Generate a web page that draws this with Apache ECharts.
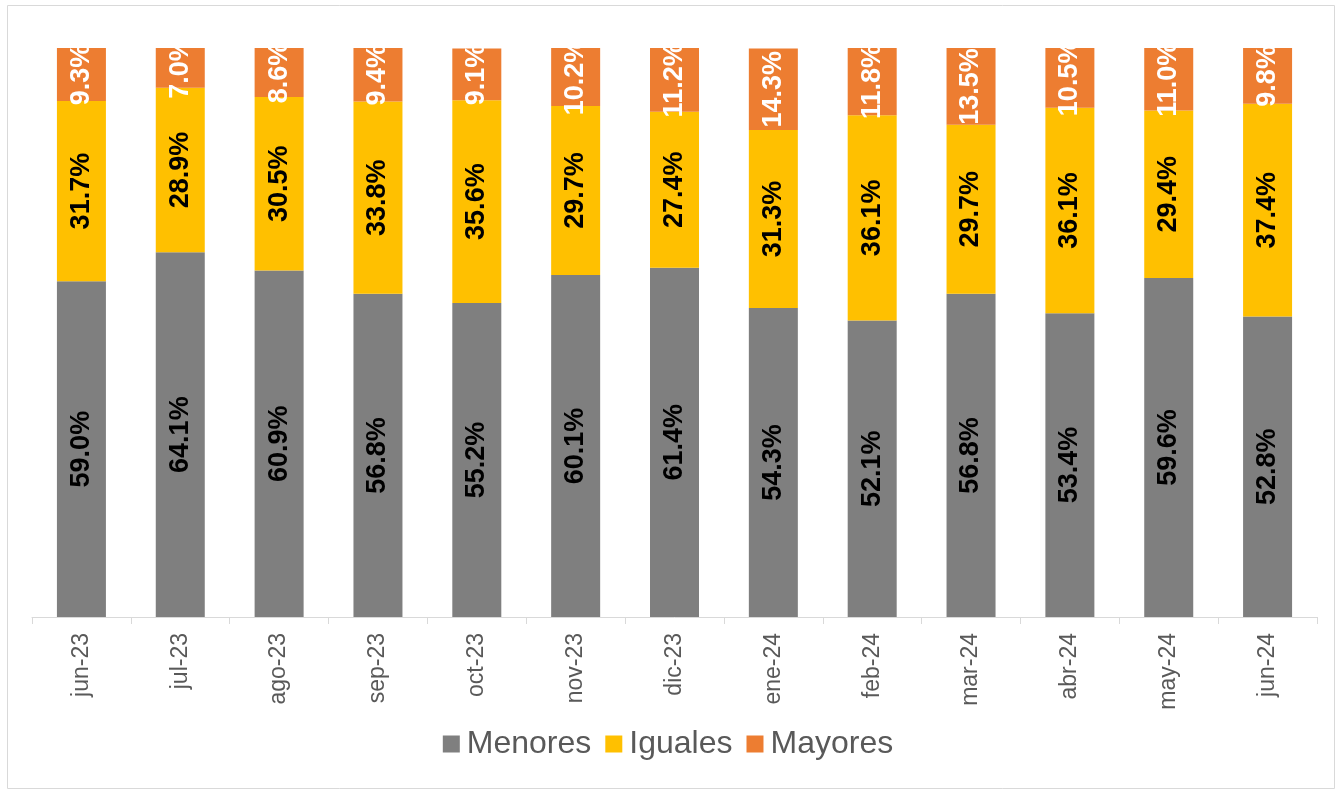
<!DOCTYPE html>
<html>
<head>
<meta charset="utf-8">
<script src="https://cdn.jsdelivr.net/npm/echarts@6/dist/echarts.min.js"></script>
<style>
html,body{margin:0;padding:0;background:#fff;}
#c{width:1336px;height:791px;}
</style>
</head>
<body>
<div id="c"></div>
<script>
var categories = ['jun-23','jul-23','ago-23','sep-23','oct-23','nov-23','dic-23','ene-24','feb-24','mar-24','abr-24','may-24','jun-24'];
var menores = [59.0, 64.1, 60.9, 56.8, 55.2, 60.1, 61.4, 54.3, 52.1, 56.8, 53.4, 59.6, 52.8];
var iguales = [31.7, 28.9, 30.5, 33.8, 35.6, 29.7, 27.4, 31.3, 36.1, 29.7, 36.1, 29.4, 37.4];
var mayores = [9.3, 7.0, 8.6, 9.4, 9.1, 10.2, 11.2, 14.3, 11.8, 13.5, 10.5, 11.0, 9.8];

var FONT = '"Liberation Sans", Arial, sans-serif';
function lbl(color){
  return {
    show: true, position: 'inside', rotate: 90,
    fontFamily: FONT, fontSize: 27, fontWeight: 'bold', color: color,
    formatter: function(p){ return p.value.toFixed(1) + '%'; }
  };
}
function ser(name, data, color, lc){
  return {
    name: name, type: 'bar', stack: 'total', data: data,
    barWidth: 49, itemStyle: {color: color}, label: lbl(lc)
  };
}
var chart = echarts.init(document.getElementById('c'));
chart.setOption({
  animation: false,
  grid: {left: 32, right: 19, top: 48, bottom: 174, containLabel: false},
  graphic: [{
    type: 'rect', silent: true, z: 100,
    shape: {x: 8, y: 6, width: 1326, height: 42},
    style: {fill: '#ffffff', stroke: 'none'}
  }, {
    type: 'rect', silent: true, z: 101,
    shape: {x: 7.5, y: 5.5, width: 1327, height: 783},
    style: {fill: 'none', stroke: '#d9d9d9', lineWidth: 1}
  }],
  legend: {
    bottom: 26, left: 'center', itemWidth: 17, itemHeight: 17, itemGap: 14,
    icon: 'rect',
    textStyle: {fontFamily: FONT, fontSize: 32, color: '#595959', padding: [0,0,0,2]},
    data: ['Menores','Iguales','Mayores']
  },
  xAxis: {
    type: 'category', data: categories,
    axisLine: {lineStyle: {color: '#d9d9d9', width: 1}},
    axisTick: {show: true, length: 7, lineStyle: {color: '#d9d9d9'}},
    axisLabel: {rotate: 90, margin: 16, fontFamily: FONT, fontSize: 23, color: '#595959'}
  },
  yAxis: {
    type: 'value', min: 0, max: 100, show: false,
    splitLine: {show: false}
  },
  series: [
    ser('Menores', menores, '#7f7f7f', '#000000'),
    ser('Iguales', iguales, '#ffc000', '#000000'),
    ser('Mayores', mayores, '#ed7d31', '#ffffff')
  ]
});
</script>
</body>
</html>
